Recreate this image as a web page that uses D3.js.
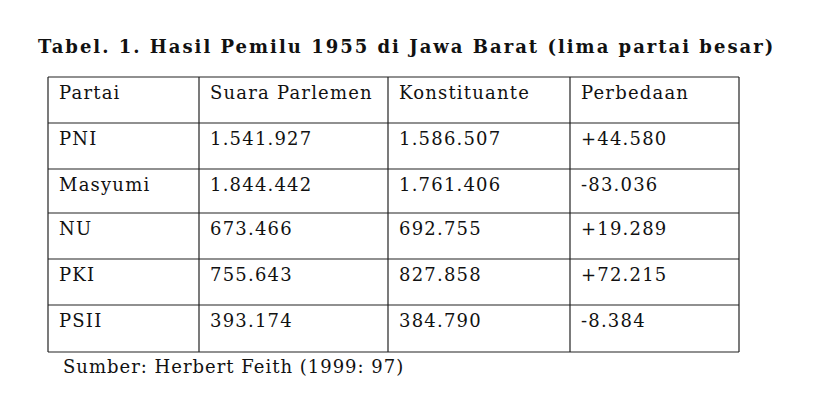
<!DOCTYPE html>
<html><head><meta charset="utf-8">
<script src="https://cdn.jsdelivr.net/npm/d3@7"></script>
<style>body{margin:0;background:#fff}</style></head>
<body><svg id="c" width="825" height="406"></svg>
<script>
const title = "Tabel. 1. Hasil Pemilu 1955 di Jawa Barat (lima partai besar)";
const headers = ["Partai","Suara Parlemen","Konstituante","Perbedaan"];
const parties = ["PNI","Masyumi","NU","PKI","PSII"];
const parlemen = ["1.541.927","1.844.442","673.466","755.643","393.174"];
const konstituante = ["1.586.507","1.761.406","692.755","827.858","384.790"];
const perbedaan = ["+44.580","-83.036","+19.289","+72.215","-8.384"];
const source = "Sumber: Herbert Feith (1999: 97)";

const svg = d3.select("#c");
const font = "'DejaVu Serif', 'Liberation Serif', serif";
const colEdges = [48, 199, 388, 570, 739];
const rowEdges = [77, 123, 169, 213, 259, 305, 352];
const rows = [headers].concat(parties.map((p,i)=>[p,parlemen[i],konstituante[i],perbedaan[i]]));

svg.append("text").attr("x",38).attr("y",53).attr("font-family",font).attr("font-weight","bold")
  .attr("font-size",18).attr("letter-spacing",2).attr("fill","#111").text(title);

const g = svg.append("g").attr("stroke","#222").attr("stroke-width",1.2);
rowEdges.forEach(y=>g.append("line").attr("x1",colEdges[0]).attr("x2",colEdges[4]).attr("y1",y).attr("y2",y));
colEdges.forEach(x=>g.append("line").attr("x1",x).attr("x2",x).attr("y1",rowEdges[0]).attr("y2",rowEdges[6]));

rows.forEach((r,ri)=>r.forEach((t,ci)=>{
  svg.append("text").attr("x",colEdges[ci]+11).attr("y",rowEdges[ri]+22)
    .attr("font-family",font).attr("font-size",18).attr("letter-spacing",1.2).attr("fill","#111").text(t);
}));

svg.append("text").attr("x",63).attr("y",373).attr("font-family",font).attr("font-size",18)
  .attr("letter-spacing",1).attr("fill","#111").text(source);
</script></body></html>
